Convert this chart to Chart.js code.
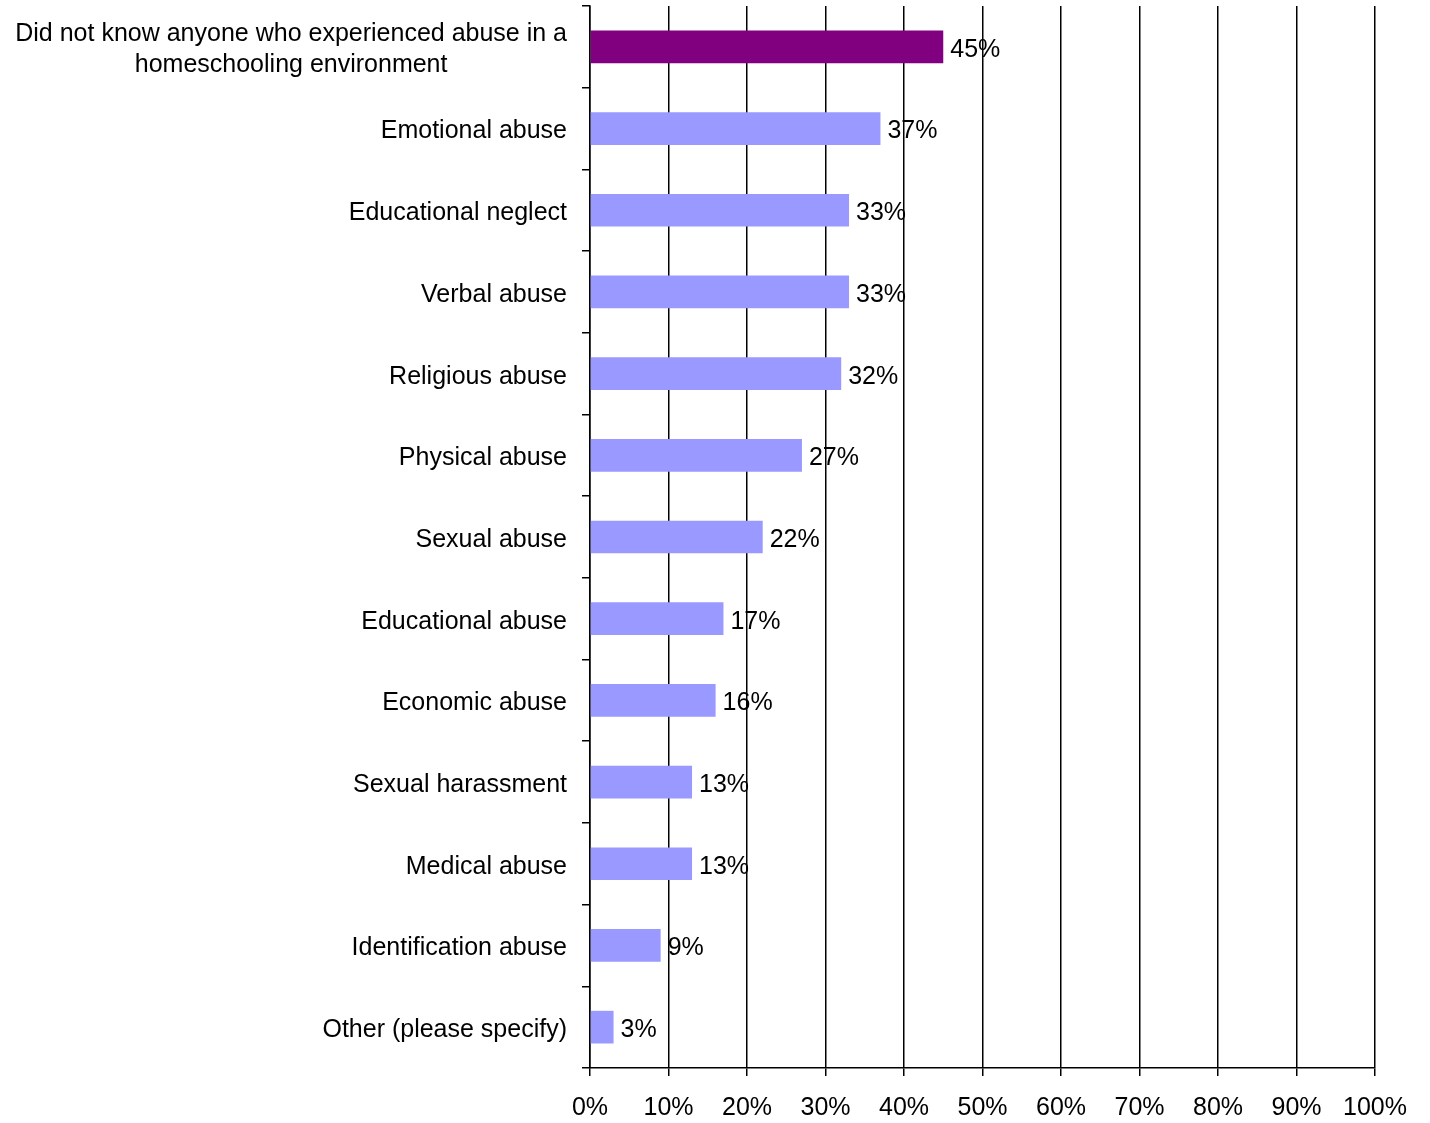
<!DOCTYPE html>
<html>
<head>
<meta charset="utf-8">
<title>Abuse in homeschooling environments</title>
<script src="https://cdn.jsdelivr.net/npm/chart.js@4/dist/chart.umd.min.js"></script>
<style>
    html, body { margin: 0; padding: 0; background: #fff; }
    canvas { display: block; }
</style>
</head>
<body>
<canvas id="abuse-chart" width="1430" height="1123"></canvas>
<script>
const categories = [
    ['Did not know anyone who experienced abuse in a', 'homeschooling environment'],
    'Emotional abuse',
    'Educational neglect',
    'Verbal abuse',
    'Religious abuse',
    'Physical abuse',
    'Sexual abuse',
    'Educational abuse',
    'Economic abuse',
    'Sexual harassment',
    'Medical abuse',
    'Identification abuse',
    'Other (please specify)',
];
const shares = [45, 37, 33, 33, 32, 27, 22, 17, 16, 13, 13, 9, 3];
const percentTicks = [0, 10, 20, 30, 40, 50, 60, 70, 80, 90, 100];

const FONT = "'Liberation Sans', Arial, sans-serif";
const FONT_SIZE = 25;
const AXIS_LEFT = 590;
const AXIS_HEIGHT = 55;

// value text at the end of each bar
const barValues = {
    id: 'barValues',
    afterDatasetsDraw(chart) {
        const ctx = chart.ctx;
        const meta = chart.getDatasetMeta(0);
        ctx.save();
        ctx.font = `${FONT_SIZE}px ${FONT}`;
        ctx.fillStyle = '#000';
        ctx.textAlign = 'left';
        ctx.textBaseline = 'middle';
        meta.data.forEach((bar, i) => {
            ctx.fillText(`${shares[i]}%`, bar.x + 7, bar.y + 3);
        });
        ctx.restore();
    },
};

// category names: block right-aligned to the axis, lines centred inside it
const categoryLabels = {
    id: 'categoryLabels',
    afterDraw(chart) {
        const ctx = chart.ctx;
        const scale = chart.scales.y;
        const right = AXIS_LEFT - 23;
        const lineHeight = 31;
        ctx.save();
        ctx.font = `${FONT_SIZE}px ${FONT}`;
        ctx.fillStyle = '#000';
        ctx.textAlign = 'center';
        ctx.textBaseline = 'middle';
        chart.data.labels.forEach((label, i) => {
            const lines = Array.isArray(label) ? label : [label];
            const blockWidth = Math.max(...lines.map((line) => ctx.measureText(line).width));
            const cx = right - blockWidth / 2;
            const cy = scale.getPixelForValue(i) + 3;
            lines.forEach((line, j) => {
                ctx.fillText(line, cx, cy + (j - (lines.length - 1) / 2) * lineHeight);
            });
        });
        ctx.restore();
    },
};

new Chart(document.getElementById('abuse-chart'), {
    type: 'bar',
    data: {
        labels: categories,
        datasets: [
            {
                data: shares,
                backgroundColor: shares.map((_, i) => (i === 0 ? '#800080' : '#9999ff')),
                borderWidth: 0,
                barPercentage: 0.4,
                categoryPercentage: 1,
            },
        ],
    },
    options: {
        indexAxis: 'y',
        responsive: false,
        animation: false,
        devicePixelRatio: 1,
        layout: { padding: { top: 6, right: 55, left: 0, bottom: 0 } },
        plugins: {
            legend: { display: false },
            tooltip: { enabled: false },
        },
        scales: {
            x: {
                min: 0,
                max: 100,
                afterBuildTicks: (scale) => {
                    scale.ticks = percentTicks.map((value) => ({ value }));
                },
                afterFit: (scale) => {
                    scale.height = AXIS_HEIGHT;
                },
                border: { color: '#000', width: 1.5 },
                grid: { color: '#000', lineWidth: 1.5, tickLength: 8 },
                ticks: {
                    color: '#000',
                    padding: 17,
                    maxRotation: 0,
                    font: { family: FONT, size: FONT_SIZE },
                    callback: (value) => `${value}%`,
                },
            },
            y: {
                afterFit: (scale) => {
                    scale.width = AXIS_LEFT;
                    scale.paddingTop = 0;
                    scale.paddingBottom = 0;
                },
                border: { color: '#000', width: 1.5 },
                grid: {
                    offset: true,
                    drawOnChartArea: false,
                    color: '#000',
                    lineWidth: 1.5,
                    tickLength: 8,
                },
                ticks: { display: false },
            },
        },
    },
    plugins: [barValues, categoryLabels],
});
</script>
</body>
</html>
